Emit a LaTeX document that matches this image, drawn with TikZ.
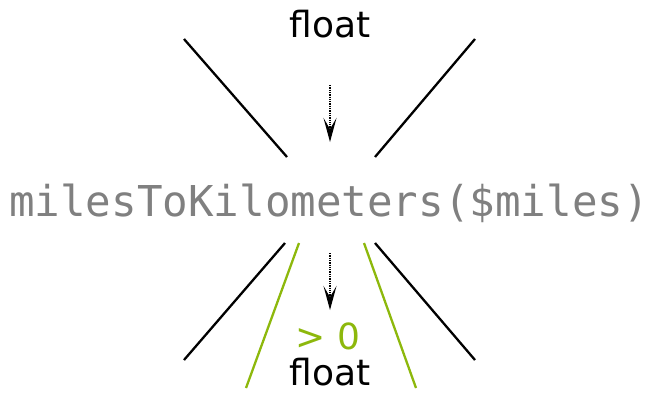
\documentclass[tikz,border=0pt]{standalone}
\usepackage{fontspec}
\setmainfont{DejaVu Sans}
\newfontfamily\codefont{DejaVu Sans Mono}
\usetikzlibrary{arrows.meta}
\definecolor{limegreen}{HTML}{8DB80C}
\definecolor{codegray}{HTML}{808080}
\tikzset{
  label/.style={inner sep=0pt, font=\fontsize{36}{36}\selectfont},
  codelabel/.style={inner sep=0pt, text=codegray, font=\codefont\fontsize{42.5}{42.5}\selectfont},
  blackline/.style={line width=2.3pt, black},
  greenline/.style={line width=2.3pt, limegreen},
  flowarrow/.style={dash pattern=on 1.3pt off 1pt, line width=1.4pt, -{Stealth[length=24pt 0,width=13pt 0,inset=11pt 0]}}
}
\begin{document}
\begin{tikzpicture}[x=1pt,y=-1pt]
\useasboundingbox (0,0) rectangle (655,394);
\node[label, anchor=base] (top) at (330,37) {float};
\node[codelabel, anchor=base] (code) at (329,216) {milesToKilometers(\$miles)};
\node[label, anchor=base] (gt) at (328,349) {\textcolor{limegreen}{> 0}};
\node[label, anchor=base] (bottom) at (330,385) {float};
% arrows
\coordinate (a1s) at (330,85);
\coordinate (a1e) at (330,142);
\coordinate (a2s) at (330,253);
\coordinate (a2e) at (330,310);
\draw[flowarrow] (a1s) -- (a1e);
\draw[flowarrow] (a2s) -- (a2e);
% black lines
\coordinate (tl1) at (184,39); \coordinate (tl2) at (287,157);
\coordinate (tr1) at (475,39); \coordinate (tr2) at (375,157);
\coordinate (bl1) at (285,243); \coordinate (bl2) at (184,360);
\coordinate (br1) at (375,243); \coordinate (br2) at (475,360);
\draw[blackline] (tl1) -- (tl2);
\draw[blackline] (tr1) -- (tr2);
\draw[blackline] (bl1) -- (bl2);
\draw[blackline] (br1) -- (br2);
% green lines
\coordinate (gl1) at (299,243); \coordinate (gl2) at (246,388);
\coordinate (gr1) at (364,243); \coordinate (gr2) at (416,388);
\draw[greenline] (gl1) -- (gl2);
\draw[greenline] (gr1) -- (gr2);
\end{tikzpicture}
\end{document}
